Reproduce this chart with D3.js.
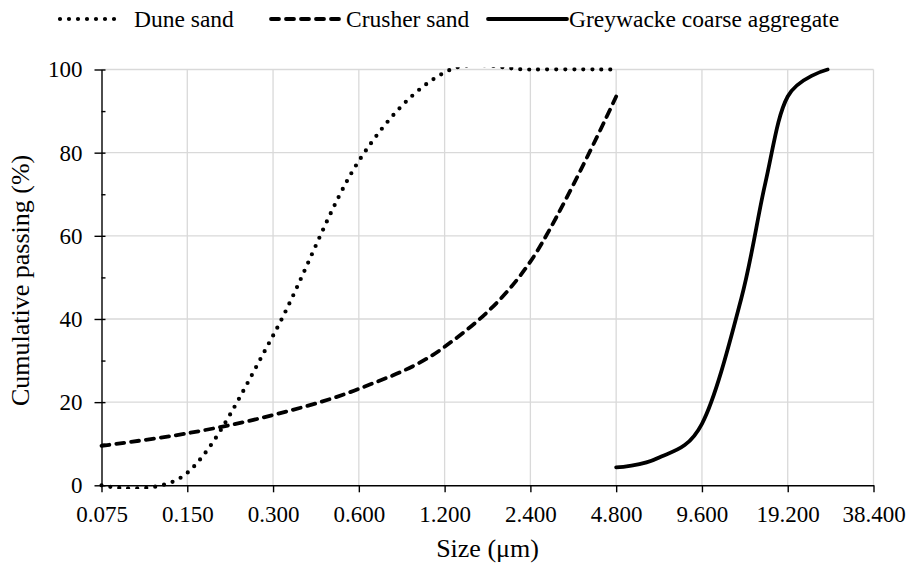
<!DOCTYPE html>
<html>
<head>
<meta charset="utf-8">
<script src="https://cdn.jsdelivr.net/npm/d3@7"></script>
<style>
  html, body { margin: 0; padding: 0; background: #ffffff; }
</style>
</head>
<body>
<svg id="chart" width="909" height="564"></svg>
<script>
// Sieve sizes (log2 axis) and cumulative passing percentages
const xTicks = [0.075, 0.15, 0.3, 0.6, 1.2, 2.4, 4.8, 9.6, 19.2, 38.4];
const yTicks = [0, 20, 40, 60, 80, 100];
const yMinorTicks = [10, 30, 50, 70, 90];

const sandSizes = [0.075, 0.15, 0.3, 0.6, 1.2, 2.4, 4.8];
const duneSand = [0, 3, 36, 78, 99.3, 100, 100];
const crusherSand = [9.5, 12.5, 16.9, 23.2, 33.3, 53.8, 93.5];

const greywackeSizes = [4.8, 6.7, 9.6, 13.2, 16, 19.2, 26.5];
const greywacke = [4.3, 6.5, 14.8, 45, 72.5, 93.5, 100];

const seriesNames = ["Dune sand", "Crusher sand", "Greywacke coarse aggregate"];

const FAMILY = "Liberation Serif";
const TICK_FONT = 23, TITLE_FONT = 26, LEGEND_FONT = 23.5;
const svg = d3.select("#chart");
const plotLeft = 101.5, plotRight = 873.5, plotTop = 69.5, plotBottom = 485.3;

const x = d3.scaleLog().base(2).domain([0.075, 38.4]).range([plotLeft, plotRight]);
const y = d3.scaleLinear().domain([0, 100]).range([plotBottom, plotTop]);

// Gridlines
const grid = svg.append("g").attr("stroke", "#d9d9d9").attr("stroke-width", 1.3);
grid.selectAll("line.h").data(yTicks.filter(d => d > 0)).join("line")
  .attr("class", "h")
  .attr("x1", plotLeft).attr("x2", plotRight)
  .attr("y1", d => y(d)).attr("y2", d => y(d));
grid.selectAll("line.v").data(xTicks.filter(d => d > 0.075)).join("line")
  .attr("class", "v")
  .attr("y1", plotTop).attr("y2", plotBottom)
  .attr("x1", d => x(d)).attr("x2", d => x(d));

// Clip region slightly larger than the plot area
svg.append("clipPath").attr("id", "plotClip").append("rect")
  .attr("x", plotLeft - 4).attr("y", plotTop - 2.2)
  .attr("width", plotRight - plotLeft + 8).attr("height", plotBottom - plotTop + 6);

const line = d3.line()
  .x(d => x(d[0])).y(d => y(d[1]))
  .curve(d3.curveCardinal.tension(0));

const series = [
  { name: seriesNames[0], pts: d3.zip(sandSizes, duneSand), dash: "0 9", width: 4.2, cap: "round" },
  { name: seriesNames[1], pts: d3.zip(sandSizes, crusherSand), dash: "8 7", width: 3.8, cap: "round" },
  { name: seriesNames[2], pts: d3.zip(greywackeSizes, greywacke), dash: null, width: 3.8, cap: "round" }
];

const plot = svg.append("g").attr("clip-path", "url(#plotClip)");
plot.selectAll("path").data(series).join("path")
  .attr("d", d => line(d.pts))
  .attr("fill", "none")
  .attr("stroke", "#000")
  .attr("stroke-width", d => d.width)
  .attr("stroke-linecap", d => d.cap)
  .attr("stroke-linejoin", "round")
  .attr("stroke-dasharray", d => d.dash);

// X axis
const xAxis = svg.append("g").attr("transform", `translate(0,${plotBottom})`)
  .call(d3.axisBottom(x).tickValues(xTicks).tickFormat(d3.format(".3f"))
    .tickSize(7).tickSizeOuter(0).tickPadding(12.9));
xAxis.attr("font-family", FAMILY).attr("font-size", TICK_FONT);
xAxis.select(".domain").attr("stroke", "#000").attr("stroke-width", 1.4);
xAxis.selectAll(".tick line").attr("stroke", "#000").attr("stroke-width", 1.4);
xAxis.selectAll("text").attr("fill", "#000");

// Y axis (major ticks cross the axis line)
const yAxis = svg.append("g").attr("transform", `translate(${plotLeft},0)`)
  .call(d3.axisLeft(y).tickValues(yTicks).tickSize(7).tickSizeOuter(0).tickPadding(12));
yAxis.attr("font-family", FAMILY).attr("font-size", TICK_FONT);
yAxis.select(".domain").attr("stroke", "#000").attr("stroke-width", 1.4);
yAxis.selectAll(".tick line").attr("x1", 4).attr("stroke", "#000").attr("stroke-width", 1.4);
yAxis.selectAll("text").attr("fill", "#000");

// Minor ticks on the inside
const yMinor = svg.append("g").attr("transform", `translate(${plotLeft},0)`)
  .call(d3.axisLeft(y).tickValues(yMinorTicks).tickSize(-4).tickFormat(""));
yMinor.select(".domain").remove();
yMinor.selectAll(".tick line").attr("stroke", "#000").attr("stroke-width", 1.4);

// Axis titles
svg.append("text")
  .attr("x", (plotLeft + plotRight) / 2).attr("y", 557)
  .attr("text-anchor", "middle")
  .attr("font-family", FAMILY).attr("font-size", TITLE_FONT)
  .text("Size (μm)");
svg.append("text")
  .attr("transform", `translate(29,${(plotTop + plotBottom) / 2 + 3}) rotate(-90)`)
  .attr("text-anchor", "middle")
  .attr("font-family", FAMILY).attr("font-size", TITLE_FONT)
  .text("Cumulative passing (%)");

// Legend
const legendItems = [
  { s: series[0], x1: 60, x2: 118, tx: 134 },
  { s: series[1], x1: 271, x2: 341, tx: 346 },
  { s: series[2], x1: 488, x2: 567, tx: 569 }
];
const legend = svg.append("g");
legendItems.forEach(it => {
  legend.append("line")
    .attr("x1", it.x1).attr("x2", it.x2).attr("y1", 19).attr("y2", 19)
    .attr("stroke", "#000").attr("stroke-width", it.s.width)
    .attr("stroke-linecap", it.s.cap)
    .attr("stroke-dasharray", it.s.dash);
  legend.append("text")
    .attr("x", it.tx).attr("y", 27)
    .attr("font-family", FAMILY).attr("font-size", LEGEND_FONT)
    .text(it.s.name);
});
</script>
</body>
</html>
